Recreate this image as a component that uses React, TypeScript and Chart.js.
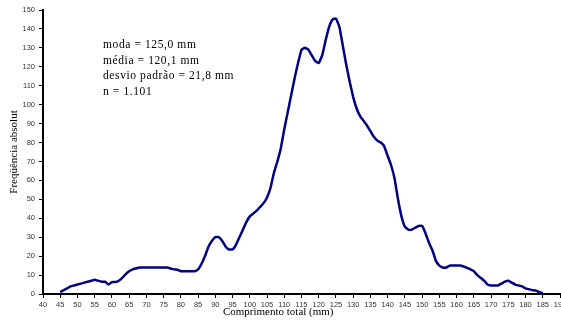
import React, { useEffect, useRef } from "react";
import { Chart, registerables } from "chart.js";

Chart.register(...registerables);

const lengthsMm: number[] = [];
for (let v = 45; v <= 185; v++) lengthsMm.push(v);

const frequency = [
  1, 2, 3, 4, 4.5, 5, 5.5, 6, 6.5, 7, // 45-54
  7.5, 7, 6.5, 6.5, 5, 6.3, 6.3, 7, 8.5, 10.5, // 55-64
  12, 13, 13.5, 14, 14, 14, 14, 14, 14, 14, // 65-74
  14, 14, 13.5, 13, 12.8, 12, 12, 12, 12, 12, // 75-84
  13, 16, 20, 25, 28, 30, 30, 28, 25, 23.5, // 85-94
  23.5, 26, 30, 34, 38, 41, 42.5, 44, 46, 48, // 95-104
  51, 56, 64, 70, 77, 87, 96, 105, 114, 122, // 105-114
  129, 130, 129, 126, 123, 122, 126, 134, 141, 145, // 115-124
  145.5, 141, 131, 121, 112, 104, 98, 94, 91.5, 89, // 125-134
  86, 83, 81, 80, 78, 73, 68, 61, 50, 41, // 135-144
  35.5, 34, 34, 35, 36, 36, 32, 27, 23, 17.5, // 145-154
  15, 14, 14, 15, 15, 15, 15, 14.5, 13.8, 13, // 155-164
  12, 10, 8.5, 7, 5, 4.5, 4.5, 4.5, 5.5, 6.5, // 165-174
  7, 6, 5, 4.5, 4, 3, 2.5, 2, 1.8, 1, // 175-184
  0.5, // 185
];

const xTitle = "Comprimento total (mm)";
const yTitle = "Freqüência absolut";
const statsLines = [
  "moda = 125,0 mm",
  "média = 120,1 mm",
  "desvio padrão = 21,8 mm",
  "n = 1.101",
];

const textPlugin = {
  id: "extraText",
  afterDraw(chart: any) {
    const { ctx, chartArea } = chart;
    ctx.save();
    ctx.fillStyle = "#000";
    ctx.font = "11px 'Liberation Serif', 'Times New Roman', serif";
    ctx.textAlign = "center";
    ctx.textBaseline = "middle";
    const cx = chartArea.left + (chartArea.right - chartArea.left) * 0.455;
    ctx.fillText(xTitle, cx, 312);
    ctx.font = "11.5px 'Liberation Serif', 'Times New Roman', serif";
    try {
      (ctx as any).letterSpacing = "0.6px";
    } catch (e) {}
    ctx.textAlign = "left";
    statsLines.forEach((t, i) => {
      ctx.fillText(t, 103, 45 + i * 15.5);
    });
    ctx.restore();
  },
};

export default function App() {
  const ref = useRef<HTMLCanvasElement | null>(null);
  useEffect(() => {
    if (!ref.current) return;
    const data = lengthsMm.map((x, i) => ({ x, y: frequency[i] }));
    const chart = new Chart(ref.current, {
      type: "line",
      data: {
        datasets: [
          {
            data,
            borderColor: "#000080",
            borderWidth: 2.5,
            pointRadius: 0,
            tension: 0.1,
            fill: false,
          },
        ],
      },
      options: {
        animation: false,
        responsive: false,
        layout: { padding: { top: 10, right: 40, left: 0, bottom: 0 } },
        plugins: { legend: { display: false }, tooltip: { enabled: false } },
        scales: {
          x: {
            type: "linear",
            min: 40,
            max: 190,
            afterFit: (s: any) => {
              s.height = 29;
            },
            ticks: {
              stepSize: 5,
              autoSkip: false,
              maxRotation: 0,
              padding: 2,
              color: "#333",
              font: { family: "'Liberation Sans', Arial, sans-serif", size: 7.5 },
            },
            grid: {
              drawOnChartArea: false,
              drawTicks: true,
              tickLength: 4,
              color: "#000",
              lineWidth: 1,
            },
            border: { display: true, color: "#000", width: 2 },
            title: { display: false },
          },
          y: {
            min: 0,
            max: 150,
            afterFit: (s: any) => {
              s.width = 43;
            },
            ticks: {
              stepSize: 10,
              padding: 4,
              color: "#333",
              font: { family: "'Liberation Sans', Arial, sans-serif", size: 7.5 },
            },
            grid: {
              drawOnChartArea: false,
              drawTicks: true,
              tickLength: 4,
              color: "#000",
              lineWidth: 1,
            },
            border: { display: true, color: "#000", width: 2 },
            title: {
              display: true,
              text: yTitle,
              color: "#000",
              padding: { top: 8, bottom: 0 },
              font: { family: "'Liberation Serif', 'Times New Roman', serif", size: 11 },
            },
          },
        },
      },
      plugins: [textPlugin],
    });
    return () => chart.destroy();
  }, []);
  return (
    <div
      style={{
        position: "absolute",
        left: 0,
        top: 0,
        width: 561,
        height: 323,
        overflow: "hidden",
        background: "#fff",
      }}
    >
      <canvas ref={ref} width={600} height={323} style={{ display: "block" }} />
    </div>
  );
}
